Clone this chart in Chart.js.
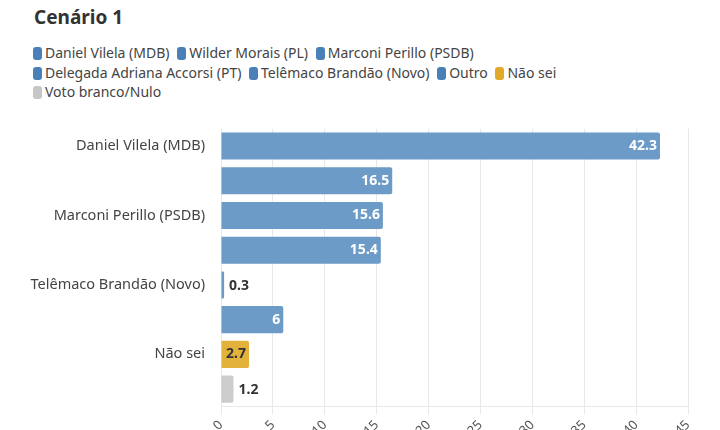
<!DOCTYPE html>
<html>
<head>
<meta charset="utf-8">
<script src="https://cdn.jsdelivr.net/npm/chart.js@4"></script>
<style>
  body { margin: 0; width: 720px; height: 430px; overflow: hidden; background: #fff; font-family: "Noto Sans", sans-serif; }
  h1 { position: absolute; left: 34px; top: 4px; margin: 0; font-size: 19px; font-weight: 700; color: #333; }
  #legend { position: absolute; left: 33px; top: 43px; width: 540px; font-size: 14px; color: #444; line-height: 19.5px; }
  #legend span.item { white-space: nowrap; margin-right: 4px; }
  #legend i { display: inline-block; width: 9px; height: 13px; border-radius: 3px; vertical-align: -2px; margin-right: 3px; }
  #wrap { position: absolute; left: 0; top: 112px; width: 720px; height: 330px; }
</style>
</head>
<body>
<h1>Cenário 1</h1>
<div id="legend"></div>
<div id="wrap"><canvas id="chart"></canvas></div>
<script>
const categories = ['Daniel Vilela (MDB)', 'Wilder Morais (PL)', 'Marconi Perillo (PSDB)', 'Delegada Adriana Accorsi (PT)', 'Telêmaco Brandão (Novo)', 'Outro', 'Não sei', 'Voto branco/Nulo'];
const axisLabels = ['Daniel Vilela (MDB)', 'Wilder Morais (PL)', 'Marconi Perillo (PSDB)', ['Delegada Adriana Accorsi', '(PT)'], 'Telêmaco Brandão (Novo)', 'Outro', 'Não sei', 'Voto branco/Nulo'];
const values = [42.3, 16.5, 15.6, 15.4, 0.3, 6, 2.7, 1.2];
const barColors = ['#6b9bc6', '#6b9bc6', '#6b9bc6', '#6b9bc6', '#6b9bc6', '#6b9bc6', '#e3b23c', '#cccccc'];
const legendColors = ['#4a80b8', '#4a80b8', '#4a80b8', '#4a80b8', '#4a80b8', '#4a80b8', '#e0a92a', '#c6c6c6'];
const xTicks = [0, 5, 10, 15, 20, 25, 30, 35, 40, 45];

const legend = document.getElementById('legend');
categories.forEach(function (c, i) {
    legend.innerHTML += '<span class="item"><i style="background:' + legendColors[i] + '"></i>' + c + '</span>' + (i === 2 || i === 6 ? '<br>' : ' ');
});

const valueLabels = {
    id: 'valueLabels',
    afterDatasetsDraw(chart) {
        const ctx = chart.ctx;
        const meta = chart.getDatasetMeta(0);
        ctx.save();
        ctx.font = 'bold 14px "Noto Sans"';
        ctx.textBaseline = 'middle';
        meta.data.forEach(function (bar, i) {
            const w = bar.x - bar.base;
            const txt = String(values[i]);
            if (w > 25) {
                ctx.textAlign = 'right';
                ctx.fillStyle = i < 6 ? '#fff' : '#333';
                ctx.fillText(txt, bar.x - 3, bar.y);
            } else {
                ctx.textAlign = 'left';
                ctx.fillStyle = '#333';
                ctx.fillText(txt, bar.x + 5, bar.y + 1);
            }
        });
        ctx.restore();
    }
};

new Chart(document.getElementById('chart'), {
    type: 'bar',
    data: {
        labels: axisLabels,
        datasets: [{
            data: values,
            backgroundColor: barColors,
            borderRadius: 2,
            barPercentage: 0.78,
            categoryPercentage: 1
        }]
    },
    options: {
        indexAxis: 'y',
        responsive: true,
        maintainAspectRatio: false,
        animation: false,
        layout: { padding: { left: 0, right: 32, top: 10 } },
        plugins: { legend: { display: false }, tooltip: { enabled: false } },
        scales: {
            x: {
                min: 0, max: 45,
                afterBuildTicks: function (s) { s.ticks = xTicks.map(function (v) { return { value: v }; }); },
                ticks: { color: '#555', font: { size: 13, family: 'Noto Sans' }, maxRotation: 45, minRotation: 45 },
                grid: { color: '#e8e8e8' },
                border: { color: '#e8e8e8' }
            },
            y: {
                afterFit: function (s) { s.width = 221; },
                ticks: { color: '#444', font: { size: 14.5, family: 'Noto Sans' }, padding: 8 },
                grid: { display: false },
                border: { display: false }
            }
        }
    },
    plugins: [valueLabels]
});
</script>
</body>
</html>
